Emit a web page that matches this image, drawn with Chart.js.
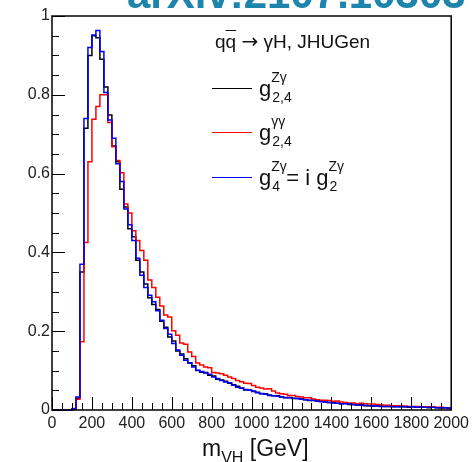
<!DOCTYPE html>
<html><head><meta charset="utf-8">
<script src="https://cdn.jsdelivr.net/npm/chart.js@4"></script>
<style>
html,body{margin:0;padding:0;background:#fff;}
#wrap{position:relative;width:473px;height:462px;overflow:hidden;font-family:"Liberation Sans",Arial,sans-serif;}
canvas{position:absolute;left:0;top:0;}
.ov{position:absolute;white-space:nowrap;color:#111;}
.lab{font-size:22px;line-height:22px;}
.ss{position:relative;display:inline-block;height:22px;vertical-align:top;}
.ss .sup{position:absolute;left:0;top:-8px;font-size:14px;line-height:14px;}
.ss .sub{position:absolute;left:1px;top:12px;font-size:14px;line-height:14px;}
.ls{position:absolute;height:0;width:40px;}
.arr{font-family:"DejaVu Sans",sans-serif;font-size:20px;}
</style></head><body>
<div id="wrap">
<canvas id="c" width="473" height="462"></canvas>
<div class="ov" id="wm" style="left:127px;top:-27px;font-size:42px;line-height:42px;font-weight:bold;color:#1d84ab;">arXiv:2107.10303</div>
<div class="ov" style="left:215px;top:32px;font-size:19px;line-height:19px;">q<span style="text-decoration:overline">q</span> <span class="arr">→</span> γH, JHUGen</div>
<div class="ls" style="left:212px;top:88px;border-top:1.5px solid #000;"></div>
<div class="ls" style="left:212px;top:132px;border-top:1.5px solid #ff0000;"></div>
<div class="ls" style="left:212px;top:177px;border-top:1.5px solid #0000ff;"></div>
<div class="ov lab" style="left:259px;top:78px;">g<span class="ss" style="width:22px"><span class="sup">Zγ</span><span class="sub">2,4</span></span></div>
<div class="ov lab" style="left:259px;top:122px;">g<span class="ss" style="width:22px"><span class="sup">γγ</span><span class="sub">2,4</span></span></div>
<div class="ov lab" style="left:259px;top:167px;">g<span class="ss" style="width:15px"><span class="sup">Zγ</span><span class="sub">4</span></span>= i g<span class="ss" style="width:18px"><span class="sup">Zγ</span><span class="sub">2</span></span></div>
<div class="ov" style="left:202px;top:437px;font-size:23px;line-height:23px;">m<span style="font-size:16px;position:relative;top:7px;">VH</span> [GeV]</div>
</div>
<script>
// histogram bin width (GeV), bins start at 0
const binWidth = 20;
// g_{2,4}^{Zgamma} (black)
const gZg24 = [0,0,0,0,0,0.002,0.03,0.35,0.715,0.90,0.95,0.945,0.89,0.82,0.749,0.67,0.63,0.56,0.515,0.46,
0.44,0.38,0.35,0.32,0.285,0.268,0.255,0.225,0.21,0.185,0.175,0.15,0.142,0.13,0.12,0.112,0.10,0.096,0.095,0.088,
0.086,0.078,0.076,0.073,0.068,0.064,0.060,0.056,0.051,0.051,0.047,0.045,0.041,0.041,0.038,0.036,0.036,0.033,0.031,0.032,
0.029,0.029,0.028,0.026,0.024,0.025,0.022,0.022,0.020,0.019,0.019,0.017,0.016,0.017,0.014,0.014,0.013,0.013,0.011,0.011,
0.010,0.011,0.010,0.009,0.009,0.008,0.009,0.008,0.008,0.007,0.008,0.007,0.007,0.007,0.006,0.007,0.006,0.005,0.006,0.004];
// g_{2,4}^{gammagamma} (red)
const gGg24 = [0,0,0,0,0,0.004,0.027,0.173,0.425,0.63,0.738,0.77,0.80,0.80,0.73,0.668,0.633,0.602,0.523,0.50,
0.455,0.43,0.405,0.38,0.33,0.311,0.286,0.264,0.241,0.236,0.201,0.190,0.170,0.167,0.147,0.136,0.119,0.114,0.109,0.107,
0.095,0.094,0.092,0.088,0.084,0.080,0.075,0.072,0.068,0.067,0.062,0.058,0.056,0.053,0.054,0.048,0.043,0.041,0.040,0.037,
0.037,0.034,0.033,0.031,0.031,0.028,0.026,0.025,0.025,0.024,0.022,0.023,0.020,0.019,0.018,0.018,0.016,0.017,0.016,0.015,
0.015,0.014,0.013,0.012,0.012,0.011,0.011,0.010,0.010,0.009,0.009,0.009,0.008,0.008,0.008,0.007,0.007,0.007,0.006,0.006];
// g_4^{Zgamma} = i g_2^{Zgamma} (blue)
const gZg4i2 = [0,0,0,0,0,0.003,0.033,0.37,0.74,0.92,0.952,0.963,0.91,0.806,0.736,0.69,0.625,0.58,0.51,0.47,
0.43,0.385,0.342,0.311,0.291,0.275,0.252,0.228,0.207,0.192,0.169,0.152,0.139,0.126,0.119,0.109,0.101,0.098,0.094,0.091,
0.084,0.080,0.075,0.071,0.069,0.063,0.058,0.055,0.052,0.050,0.048,0.044,0.042,0.040,0.037,0.036,0.035,0.033,0.032,0.031,
0.030,0.029,0.027,0.026,0.025,0.024,0.023,0.021,0.020,0.019,0.018,0.017,0.016,0.016,0.015,0.014,0.013,0.012,0.012,0.011,
0.010,0.010,0.009,0.009,0.009,0.009,0.008,0.009,0.008,0.008,0.008,0.007,0.008,0.007,0.007,0.007,0.006,0.006,0.006,0.005];
const xTicks = [0,200,400,600,800,1000,1200,1400,1600,1800,2000];
const xTickLabels = ['0','200','400','600','800','1000','1200','1400','1600','1800','2000'];
const yTicks = [0,0.2,0.4,0.6,0.8,1];
const yTickLabels = ['0','0.2','0.4','0.6','0.8','1'];

function stepPoints(vals){
  const pts = vals.map((v,i)=>({x:i*binWidth, y:v}));
  pts.push({x:vals.length*binWidth, y:vals[vals.length-1]});
  return pts;
}

const axisDecor = {
  id:'axisDecor',
  afterDatasetsDraw(chart){
    const {ctx, chartArea:a, scales:{x,y}} = chart;
    ctx.save();
    ctx.strokeStyle='#000'; ctx.lineWidth=1;
    ctx.beginPath();
    for(let v=0; v<=2000; v+=50){
      const px = Math.round(x.getPixelForValue(v))+0.5;
      const len = (v%200===0)?13:7;
      ctx.moveTo(px,a.bottom); ctx.lineTo(px,a.bottom-len);
    }
    for(let k=0; k<=20; k++){
      const py = Math.round(y.getPixelForValue(k*0.05))+0.5;
      const len = (k%4===0)?13:7;
      ctx.moveTo(a.left,py); ctx.lineTo(a.left+len,py);
    }
    ctx.stroke();
    ctx.lineWidth=1.5;
    ctx.strokeRect(a.left,a.top,a.right-a.left,a.bottom-a.top);
    ctx.restore();
  }
};

new Chart(document.getElementById('c'), {
  type:'line',
  data:{datasets:[
    {label:'gZg24', data:stepPoints(gZg24), borderColor:'#000000', borderWidth:1.5, stepped:'before', pointRadius:0, fill:false, order:2, clip:3},
    {label:'gGg24', data:stepPoints(gGg24), borderColor:'#ff0000', borderWidth:1.5, stepped:'before', pointRadius:0, fill:false, order:1, clip:3},
    {label:'gZg4i2', data:stepPoints(gZg4i2), borderColor:'#0000ff', borderWidth:1.5, stepped:'before', pointRadius:0, fill:false, order:0, clip:3}
  ]},
  options:{
    responsive:false, animation:false, devicePixelRatio:1,
    layout:{padding:{top:16,right:17,left:0,bottom:0}},
    plugins:{legend:{display:false}, tooltip:{enabled:false}},
    scales:{
      x:{type:'linear', min:0, max:2000,
        afterBuildTicks:s=>{s.ticks = xTicks.map(v=>({value:v}));},
        afterFit:s=>{s.height=52;},
        ticks:{autoSkip:false, maxRotation:0, padding:4, color:'#222', font:{family:'"Liberation Sans", Arial, sans-serif', size:16},
          callback:(v,i)=>xTickLabels[i]},
        grid:{display:false, drawTicks:false}, border:{display:false}},
      y:{type:'linear', min:0, max:1,
        afterBuildTicks:s=>{s.ticks = yTicks.map(v=>({value:v}));},
        afterFit:s=>{s.width=52;},
        ticks:{padding:2, color:'#222', font:{family:'"Liberation Sans", Arial, sans-serif', size:16},
          callback:(v,i)=>yTickLabels[i]},
        grid:{display:false, drawTicks:false}, border:{display:false}}
    }
  },
  plugins:[axisDecor]
});
</script>
</body></html>
